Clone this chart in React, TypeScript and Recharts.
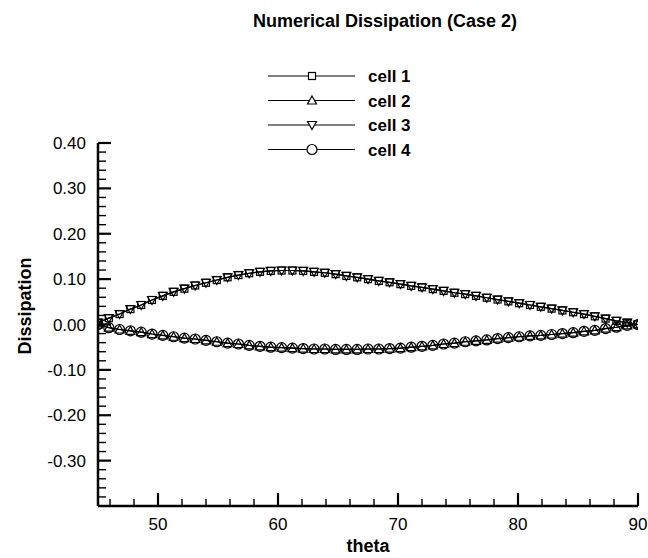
import React from 'react';
import { LineChart, Line, XAxis, YAxis } from 'recharts';

const FONT = '"Liberation Sans", Arial, sans-serif';

// theta samples (deg)
const theta = [
  45.0, 45.9, 46.8, 47.7, 48.6, 49.5, 50.4, 51.3, 52.2, 53.1,
  54.0, 54.9, 55.8, 56.7, 57.6, 58.5, 59.4, 60.3, 61.2, 62.1,
  63.0, 63.9, 64.8, 65.7, 66.6, 67.5, 68.4, 69.3, 70.2, 71.1,
  72.0, 72.9, 73.8, 74.7, 75.6, 76.5, 77.4, 78.3, 79.2, 80.1,
  81.0, 81.9, 82.8, 83.7, 84.6, 85.5, 86.4, 87.3, 88.2, 89.1, 90.0,
];

// cells 1 and 3 sit on the upper curve
const cell1 = [
  0.004, 0.014, 0.023, 0.034, 0.043, 0.054, 0.063, 0.072, 0.079, 0.086,
  0.092, 0.098, 0.104, 0.109, 0.113, 0.116, 0.118, 0.119, 0.119, 0.118,
  0.116, 0.114, 0.111, 0.107, 0.104, 0.100, 0.096, 0.093, 0.089, 0.085,
  0.082, 0.078, 0.074, 0.070, 0.067, 0.063, 0.059, 0.055, 0.051, 0.047,
  0.043, 0.039, 0.035, 0.031, 0.027, 0.023, 0.018, 0.013, 0.008, 0.004, 0.000,
];
const cell3 = [
  0.004, 0.014, 0.023, 0.034, 0.043, 0.054, 0.063, 0.072, 0.079, 0.086,
  0.092, 0.098, 0.104, 0.109, 0.113, 0.116, 0.118, 0.119, 0.119, 0.118,
  0.116, 0.114, 0.111, 0.107, 0.104, 0.100, 0.096, 0.093, 0.089, 0.085,
  0.082, 0.078, 0.074, 0.070, 0.067, 0.063, 0.059, 0.055, 0.051, 0.047,
  0.043, 0.039, 0.035, 0.031, 0.027, 0.023, 0.018, 0.013, 0.008, 0.004, 0.000,
];

// cells 2 and 4 sit on the lower curve
const cell2 = [
  0.000, -0.007, -0.011, -0.014, -0.017, -0.021, -0.024, -0.027, -0.030, -0.032,
  -0.035, -0.038, -0.041, -0.043, -0.046, -0.048, -0.050, -0.051, -0.052, -0.053,
  -0.054, -0.054, -0.055, -0.055, -0.055, -0.054, -0.054, -0.053, -0.052, -0.050,
  -0.048, -0.046, -0.043, -0.041, -0.038, -0.036, -0.034, -0.031, -0.029, -0.027,
  -0.025, -0.024, -0.022, -0.020, -0.018, -0.015, -0.013, -0.009, -0.006, -0.002, 0.000,
];
const cell4 = [
  0.000, -0.007, -0.011, -0.014, -0.017, -0.021, -0.024, -0.027, -0.030, -0.032,
  -0.035, -0.038, -0.041, -0.043, -0.046, -0.048, -0.050, -0.051, -0.052, -0.053,
  -0.054, -0.054, -0.055, -0.055, -0.055, -0.054, -0.054, -0.053, -0.052, -0.050,
  -0.048, -0.046, -0.043, -0.041, -0.038, -0.036, -0.034, -0.031, -0.029, -0.027,
  -0.025, -0.024, -0.022, -0.020, -0.018, -0.015, -0.013, -0.009, -0.006, -0.002, 0.000,
];

const xMajorTicks = [50, 60, 70, 80, 90];
const yMajorTicks = [-0.3, -0.2, -0.1, 0.0, 0.1, 0.2, 0.3, 0.4];

// minor ticks every 2 deg / 0.02
const xTicks: number[] = [];
for (let t = 46; t <= 90; t += 2) xTicks.push(t);
const yTicks: number[] = [];
for (let i = -19; i <= 20; i++) yTicks.push(Math.round(i * 2) / 100);

const series = [
  { key: 'cell1', name: 'cell 1', shape: 'square' },
  { key: 'cell2', name: 'cell 2', shape: 'up' },
  { key: 'cell3', name: 'cell 3', shape: 'down' },
  { key: 'cell4', name: 'cell 4', shape: 'circle' },
];

const data = theta.map((t, i) => ({
  theta: t,
  cell1: cell1[i],
  cell2: cell2[i],
  cell3: cell3[i],
  cell4: cell4[i],
}));

const Marker = ({ cx, cy, shape, fill = 'none' }: any) => {
  if (cx == null || cy == null) return null;
  const p = { stroke: '#000', strokeWidth: 1.2, fill };
  if (shape === 'square') return <rect x={cx - 3.5} y={cy - 3.5} width={7} height={7} {...p} />;
  if (shape === 'up')
    return <polygon points={`${cx},${cy - 4.5} ${cx + 4.5},${cy + 3.5} ${cx - 4.5},${cy + 3.5}`} {...p} />;
  if (shape === 'down')
    return <polygon points={`${cx},${cy + 4.5} ${cx + 4.5},${cy - 3.5} ${cx - 4.5},${cy - 3.5}`} {...p} />;
  return <circle cx={cx} cy={cy} r={5} {...p} />;
};

const XTick = ({ x, y, payload }: any) => {
  const v = payload.value;
  const major = xMajorTicks.includes(v);
  return (
    <g>
      <line x1={x} x2={x} y1={y} y2={y - (major ? 13 : 7)} stroke="#000" strokeWidth={major ? 2.2 : 1.4} />
      {major && (
        <text x={x} y={y + 24} textAnchor="middle" fontSize={17} fontFamily={FONT} fill="#000">
          {v}
        </text>
      )}
    </g>
  );
};

const YTick = ({ x, y, payload }: any) => {
  const v = payload.value;
  const major = yMajorTicks.some((m) => Math.abs(m - v) < 1e-6);
  return (
    <g>
      <line x1={x} x2={x + (major ? 13 : 8)} y1={y} y2={y} stroke="#000" strokeWidth={major ? 2.2 : 1.4} />
      {major && (
        <text x={x - 12} y={y + 6} textAnchor="end" fontSize={17} fontFamily={FONT} fill="#000">
          {v.toFixed(2)}
        </text>
      )}
    </g>
  );
};

export default function App() {
  return (
    <div style={{ position: 'absolute', left: 0, top: 0, width: 648, height: 558, background: '#fff' }}>
      <LineChart
        width={648}
        height={558}
        data={data}
        margin={{ top: 143, right: 10, bottom: 12, left: 28 }}
      >
        <XAxis
          type="number"
          dataKey="theta"
          domain={[45, 90]}
          ticks={xTicks}
          interval={0}
          height={40}
          tickSize={0}
          tickMargin={0}
          tickLine={false}
          tick={<XTick />}
          axisLine={{ stroke: '#000', strokeWidth: 2.5 }}
          allowDataOverflow
        />
        <YAxis
          type="number"
          domain={[-0.4, 0.4]}
          ticks={yTicks}
          interval={0}
          width={70}
          tickSize={0}
          tickMargin={0}
          tickLine={false}
          tick={<YTick />}
          axisLine={{ stroke: '#000', strokeWidth: 2.5 }}
          allowDataOverflow
        />
        {series.map((s) => (
          <Line
            key={s.key}
            type="linear"
            dataKey={s.key}
            name={s.name}
            stroke="#000"
            strokeWidth={1.2}
            isAnimationActive={false}
            dot={(p: any) => <Marker key={`${s.key}-${p.index}`} cx={p.cx} cy={p.cy} shape={s.shape} />}
          />
        ))}
      </LineChart>
      <svg
        width={648}
        height={558}
        style={{ position: 'absolute', left: 0, top: 0, pointerEvents: 'none' }}
      >
        <text x={385} y={27} textAnchor="middle" fontSize={18} fontWeight="bold" fontFamily={FONT}>
          Numerical Dissipation (Case 2)
        </text>
        {series.map((s, i) => {
          const y = 76 + i * 24.5;
          return (
            <g key={s.key}>
              <line x1={268} x2={355} y1={y} y2={y} stroke="#000" strokeWidth={1.2} />
              <Marker cx={312} cy={y} shape={s.shape} fill="#fff" />
              <text x={368} y={y + 6} fontSize={17} fontWeight="bold" fontFamily={FONT}>
                {s.name}
              </text>
            </g>
          );
        })}
        <text
          transform="translate(31,306) rotate(-90)"
          textAnchor="middle"
          fontSize={18}
          fontWeight="bold"
          fontFamily={FONT}
        >
          Dissipation
        </text>
        <text x={368} y={552} textAnchor="middle" fontSize={18} fontWeight="bold" fontFamily={FONT}>
          theta
        </text>
      </svg>
    </div>
  );
}
